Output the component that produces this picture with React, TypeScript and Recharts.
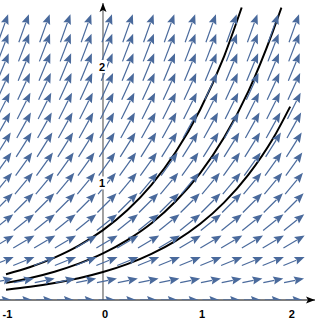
import React from "react";
import {
  ComposedChart,
  XAxis,
  YAxis,
  Scatter,
  Line,
  ReferenceLine,
  ReferenceDot,
} from "recharts";

// Slope field dy/dx = y : sample grid
const gridX = [-1.03, -0.816, -0.601, -0.387, -0.173, 0.041, 0.256, 0.47, 0.684, 0.899, 1.113, 1.327, 1.541, 1.756, 1.97];
const gridY = [0, 0.167, 0.333, 0.5, 0.667, 0.833, 1, 1.167, 1.333, 1.5, 1.667, 1.833, 2, 2.167, 2.333];

// Solution curves
const curveA = [
  { x: -1, y: 0.221 }, { x: -0.75, y: 0.283 }, { x: -0.5, y: 0.364 }, { x: -0.25, y: 0.467 },
  { x: 0, y: 0.6 }, { x: 0.25, y: 0.77 }, { x: 0.5, y: 0.989 }, { x: 0.75, y: 1.27 },
  { x: 1, y: 1.631 }, { x: 1.25, y: 2.094 }, { x: 1.43, y: 2.51 },
];
const curveB = [
  { x: -1, y: 0.147 }, { x: -0.75, y: 0.189 }, { x: -0.5, y: 0.243 }, { x: -0.25, y: 0.312 },
  { x: 0, y: 0.4 }, { x: 0.25, y: 0.514 }, { x: 0.5, y: 0.659 }, { x: 0.75, y: 0.847 },
  { x: 1, y: 1.087 }, { x: 1.25, y: 1.396 }, { x: 1.5, y: 1.793 }, { x: 1.75, y: 2.302 },
  { x: 1.84, y: 2.51 },
];
const curveC = [
  { x: -1, y: 0.088 }, { x: -0.75, y: 0.113 }, { x: -0.5, y: 0.146 }, { x: -0.25, y: 0.187 },
  { x: 0, y: 0.24 }, { x: 0.25, y: 0.308 }, { x: 0.5, y: 0.396 }, { x: 0.75, y: 0.508 },
  { x: 1, y: 0.652 }, { x: 1.25, y: 0.838 }, { x: 1.5, y: 1.076 }, { x: 1.75, y: 1.381 },
  { x: 1.93, y: 1.66 },
];

const xTicks = [-1, 0, 1, 2];
const xTickLabels = ["-1", "0", "1", "2"];
const yTicks = [1, 2];

const X_DOMAIN: [number, number] = [-1.062, 2.186];
const Y_DOMAIN: [number, number] = [0, 2.549];
const W = 320;
const H = 324;
const MARGIN = { top: 3, right: 5, bottom: 0, left: 0 };
const XAXIS_H = 24;
const PLOT_W = W - MARGIN.left - MARGIN.right;
const PLOT_H = H - MARGIN.top - MARGIN.bottom - XAXIS_H;
const PX_X = PLOT_W / (X_DOMAIN[1] - X_DOMAIN[0]);
const PX_Y = PLOT_H / (Y_DOMAIN[1] - Y_DOMAIN[0]);

const fieldData = gridX.flatMap((x) => gridY.map((y) => ({ x, y })));
const yTickData = yTicks.map((v) => ({ x: 0, y: v, label: String(v) }));

const ARROW = "#4a6a9c";

const Arrow = (props: any) => {
  const { cx, cy, payload } = props;
  if (cx == null || cy == null) return null;
  const slope = payload.y; // dy/dx = y
  const vx = PX_X;
  const vy = -slope * PX_Y;
  const n = Math.hypot(vx, vy);
  const ux = vx / n;
  const uy = vy / n;
  const L = 30 - 13 * Math.exp(-1.8 * payload.y);
  const tx = cx - (ux * L) / 2;
  const ty = cy - (uy * L) / 2;
  const px = cx + (ux * L) / 2;
  const py = cy + (uy * L) / 2;
  const hl = 10;
  const hw = 4;
  const bx = px - ux * hl;
  const by = py - uy * hl;
  const nx = -uy;
  const ny = ux;
  return (
    <g>
      <line x1={tx} y1={ty} x2={bx + ux * 1} y2={by + uy * 1} stroke={ARROW} strokeWidth={1.2} />
      <polygon
        points={`${px},${py} ${bx + nx * hw},${by + ny * hw} ${bx + ux * 1.5},${by + uy * 1.5} ${bx - nx * hw},${by - ny * hw}`}
        fill={ARROW}
      />
    </g>
  );
};

const YLabel = (props: any) => {
  const { cx, cy, payload } = props;
  if (cx == null || cy == null) return null;
  return (
    <g>
      <rect x={cx - 5} y={cy - 7} width={9} height={13} fill="#fff" />
      <text
        x={cx - 1}
        y={cy + 4}
        textAnchor="middle"
        fontSize={11}
        fontWeight="bold"
        fontFamily="Liberation Sans, Arial, sans-serif"
        fill="#000"
      >
        {payload.label}
      </text>
    </g>
  );
};

const XTick = (props: any) => {
  const { x, y, payload } = props;
  const i = xTicks.indexOf(payload.value);
  const label = xTickLabels[i] ?? String(payload.value);
  let anchor: "start" | "middle" | "end" = "start";
  let dx = -1;
  if (i === 0) {
    anchor = "middle";
    dx = 1.5;
  } else if (i === xTicks.length - 1) {
    anchor = "end";
    dx = -2;
  }
  return (
    <text
      x={x + dx}
      y={y + 18}
      textAnchor={anchor}
      fontSize={11}
      fontWeight="bold"
      fontFamily="Liberation Sans, Arial, sans-serif"
      fill="#000"
    >
      {label}
    </text>
  );
};

const XHead = (props: any) => {
  const { cx, cy } = props;
  if (cx == null) return null;
  return <polygon points={`${cx},${cy} ${cx - 9},${cy - 3.5} ${cx - 7},${cy} ${cx - 9},${cy + 3.5}`} fill="#000" />;
};

const YHead = (props: any) => {
  const { cx, cy } = props;
  if (cx == null) return null;
  return <polygon points={`${cx},${cy} ${cx - 3.5},${cy + 9} ${cx},${cy + 7} ${cx + 3.5},${cy + 9}`} fill="#000" />;
};

export default function App() {
  return (
    <div style={{ position: "absolute", left: 0, top: 0, width: W, height: H, background: "#fff" }}>
      <ComposedChart width={W} height={H} margin={MARGIN}>
        <XAxis
          type="number"
          dataKey="x"
          domain={X_DOMAIN}
          allowDataOverflow
          ticks={xTicks}
          tickLine={false}
          tickSize={0}
          tickMargin={0}
          height={XAXIS_H}
          axisLine={{ stroke: "#000", strokeWidth: 1 }}
          tick={<XTick />}
          interval={0}
        />
        <YAxis type="number" dataKey="y" domain={Y_DOMAIN} allowDataOverflow hide width={0} />
        <ReferenceLine x={0} stroke="#444" strokeWidth={1} />
        <Scatter data={fieldData} shape={<Arrow />} isAnimationActive={false} />
        <Line data={curveA} dataKey="y" type="monotone" stroke="#000" strokeWidth={2} dot={false} isAnimationActive={false} />
        <Line data={curveB} dataKey="y" type="monotone" stroke="#000" strokeWidth={2} dot={false} isAnimationActive={false} />
        <Line data={curveC} dataKey="y" type="monotone" stroke="#000" strokeWidth={2} dot={false} isAnimationActive={false} />
        <Scatter data={yTickData} shape={<YLabel />} isAnimationActive={false} />
        <ReferenceDot x={X_DOMAIN[1]} y={0} r={0} ifOverflow="visible" shape={<XHead />} />
        <ReferenceDot x={0} y={Y_DOMAIN[1]} r={0} ifOverflow="visible" shape={<YHead />} />
      </ComposedChart>
    </div>
  );
}
